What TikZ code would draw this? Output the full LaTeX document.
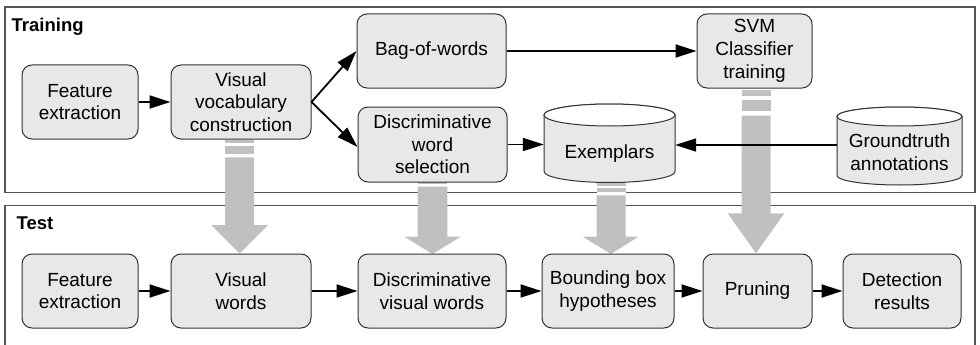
\documentclass[tikz,border=0pt]{standalone}
\usepackage{fontspec}
\setmainfont{Liberation Sans}
\usetikzlibrary{arrows.meta}
\pgfdeclarelayer{bg}
\pgfsetlayers{bg,main}
\definecolor{boxfill}{HTML}{E8E8E8}
\definecolor{boxline}{HTML}{333333}
\definecolor{framec}{HTML}{555555}
\definecolor{garr}{HTML}{C0C0C0}
\tikzset{
  stepbox/.style={draw=boxline, line width=1pt, fill=boxfill, rounded corners=10pt,
    align=center, inner sep=2pt, font=\fontsize{19}{22.7}\selectfont},
  cyltext/.style={align=center, inner sep=0pt, font=\fontsize{19}{22.7}\selectfont},
  cylshape/.style={draw=boxline, line width=1pt, fill=boxfill},
  conn/.style={line width=1.8pt, -{Triangle[length=21pt,width=13pt]}},
  frame/.style={draw=framec, line width=1.3pt},
  lbl/.style={font=\fontsize{18.5}{20}\selectfont\bfseries, inner sep=0pt, anchor=base west}
}
\begin{document}
\begin{tikzpicture}[x=1pt,y=-1pt]
\useasboundingbox (0,0) rectangle (980,345);

% ---------- Training nodes ----------
\node[stepbox, minimum width=116pt, minimum height=74pt] (fe1) at (80,102) {Feature\\extraction};
\node[stepbox, minimum width=140pt, minimum height=74pt] (vvc) at (241,102) {Visual\\vocabulary\\construction};
\node[stepbox, minimum width=149pt, minimum height=74pt] (bow) at (431.5,51) {Bag-of-words};
\node[stepbox, minimum width=149pt, minimum height=75pt] (dws) at (432.5,144.5) {Discriminative\\word\\selection};
\node[stepbox, minimum width=115pt, minimum height=74pt] (svm) at (754.5,51) {SVM\\Classifier\\training};

% Exemplars cylinder
\path[cylshape] (544,115) -- (544,171.5) arc[start angle=180,end angle=360,x radius=65.5pt,y radius=11pt]
  -- (675,115) arc[start angle=0,end angle=180,x radius=65.5pt,y radius=11pt] -- cycle;
\draw[draw=boxline, line width=1pt, fill=white] (609.5,115) ellipse[x radius=65.5pt, y radius=11pt];
\node[inner sep=0pt, minimum width=131pt, minimum height=56.5pt] (ex) at (609.5,143.25) {};
\node[cyltext, anchor=base] (ext) at (609.5,158) {Exemplars};

% Groundtruth cylinder
\path[cylshape] (837,116.5) -- (837,175.5) arc[start angle=180,end angle=360,x radius=62.5pt,y radius=9.5pt]
  -- (962,116.5) arc[start angle=0,end angle=180,x radius=62.5pt,y radius=9.5pt] -- cycle;
\draw[draw=boxline, line width=1pt, fill=white] (899.5,116.5) ellipse[x radius=62.5pt, y radius=9.5pt];
\node[inner sep=0pt, minimum width=125pt, minimum height=58pt] (gt) at (899.5,145) {};
\node[cyltext] (gtt) at (899.5,152.5) {Groundtruth\\annotations};

% ---------- Test nodes ----------
\node[stepbox, minimum width=116pt, minimum height=74pt] (fe2) at (80,291) {Feature\\extraction};
\node[stepbox, minimum width=140pt, minimum height=74pt] (vw) at (241,291) {Visual\\words};
\node[stepbox, minimum width=148pt, minimum height=74pt] (dvw) at (432,291) {Discriminative\\visual words};
\node[stepbox, minimum width=132pt, minimum height=74pt] (bbh) at (608,291) {Bounding box\\hypotheses};
\node[stepbox, minimum width=109pt, minimum height=74pt] (pr) at (757.5,291) {Pruning};
\node[stepbox, minimum width=118pt, minimum height=74pt] (dr) at (902,291) {Detection\\results};

% ---------- labels ----------
\node[lbl] (ltrain) at (11.5,31.7) {Training};
\node[lbl] (ltest) at (16.5,229) {Test};

% ---------- frames and gray arrows (background) ----------
\begin{pgfonlayer}{bg}
\draw[frame] (5,7) rectangle (975,192.5);
\draw[frame] (5,346) -- (5,205.5) -- (975,205.5) -- (975,346);
% arrow 1: vvc -> vw
\fill[white] (225,140) rectangle (254,157.3);
\fill[garr] (225,140) rectangle (254,143);
\fill[garr] (225,146) rectangle (254,154);
\fill[garr] (225,157.3) -- (225,225) -- (211,225) -- (239.5,253.5) -- (268,225) -- (254,225) -- (254,157.3) -- cycle;
% arrow 2: dws -> dvw
\fill[white] (417.7,176) rectangle (447.3,186.7);
\fill[garr] (417.7,176) rectangle (447.3,184.3);
\fill[garr] (417.7,186.7) -- (417.7,236.7) -- (404.3,236.7) -- (432.5,254) -- (460.7,236.7) -- (447.3,236.7) -- (447.3,186.7) -- cycle;
% arrow 3: ex -> bbh
\fill[white] (596.7,178) rectangle (625.5,195.3);
\fill[garr] (596.7,178) rectangle (625.5,186.3);
\fill[garr] (596.7,188) rectangle (625.5,191.7);
\fill[garr] (596.7,195.3) -- (596.7,236.7) -- (582.7,236.7) -- (611,254) -- (638.3,236.7) -- (625.5,236.7) -- (625.5,195.3) -- cycle;
% arrow 4: svm -> pr
\fill[white] (741.7,90) rectangle (770.7,115.7);
\fill[garr] (741.7,90) rectangle (770.7,95.7);
\fill[garr] (741.7,100) rectangle (770.7,111);
\fill[garr] (741.7,115.7) -- (741.7,213.3) -- (727.7,213.3) -- (756,253.3) -- (784.3,213.3) -- (770.7,213.3) -- (770.7,115.7) -- cycle;
\end{pgfonlayer}

% ---------- connectors ----------
\draw[conn] (fe1) -- (vvc);
\draw[conn] (vvc.east) -- (bow.west);
\draw[conn] (vvc.east) -- ([yshift=-2.5pt]dws.west);
\draw[conn] (bow) -- (svm);
\draw[conn] (dws.east) -- (dws.east -| ex.west);
\draw[conn] (gt.west) -- (gt.west -| ex.east);

\draw[conn] (fe2) -- (vw);
\draw[conn] (vw) -- (dvw);
\draw[conn] (dvw) -- (bbh);
\draw[conn] (bbh) -- (pr);
\draw[conn] (pr) -- (dr);
\end{tikzpicture}
\end{document}
